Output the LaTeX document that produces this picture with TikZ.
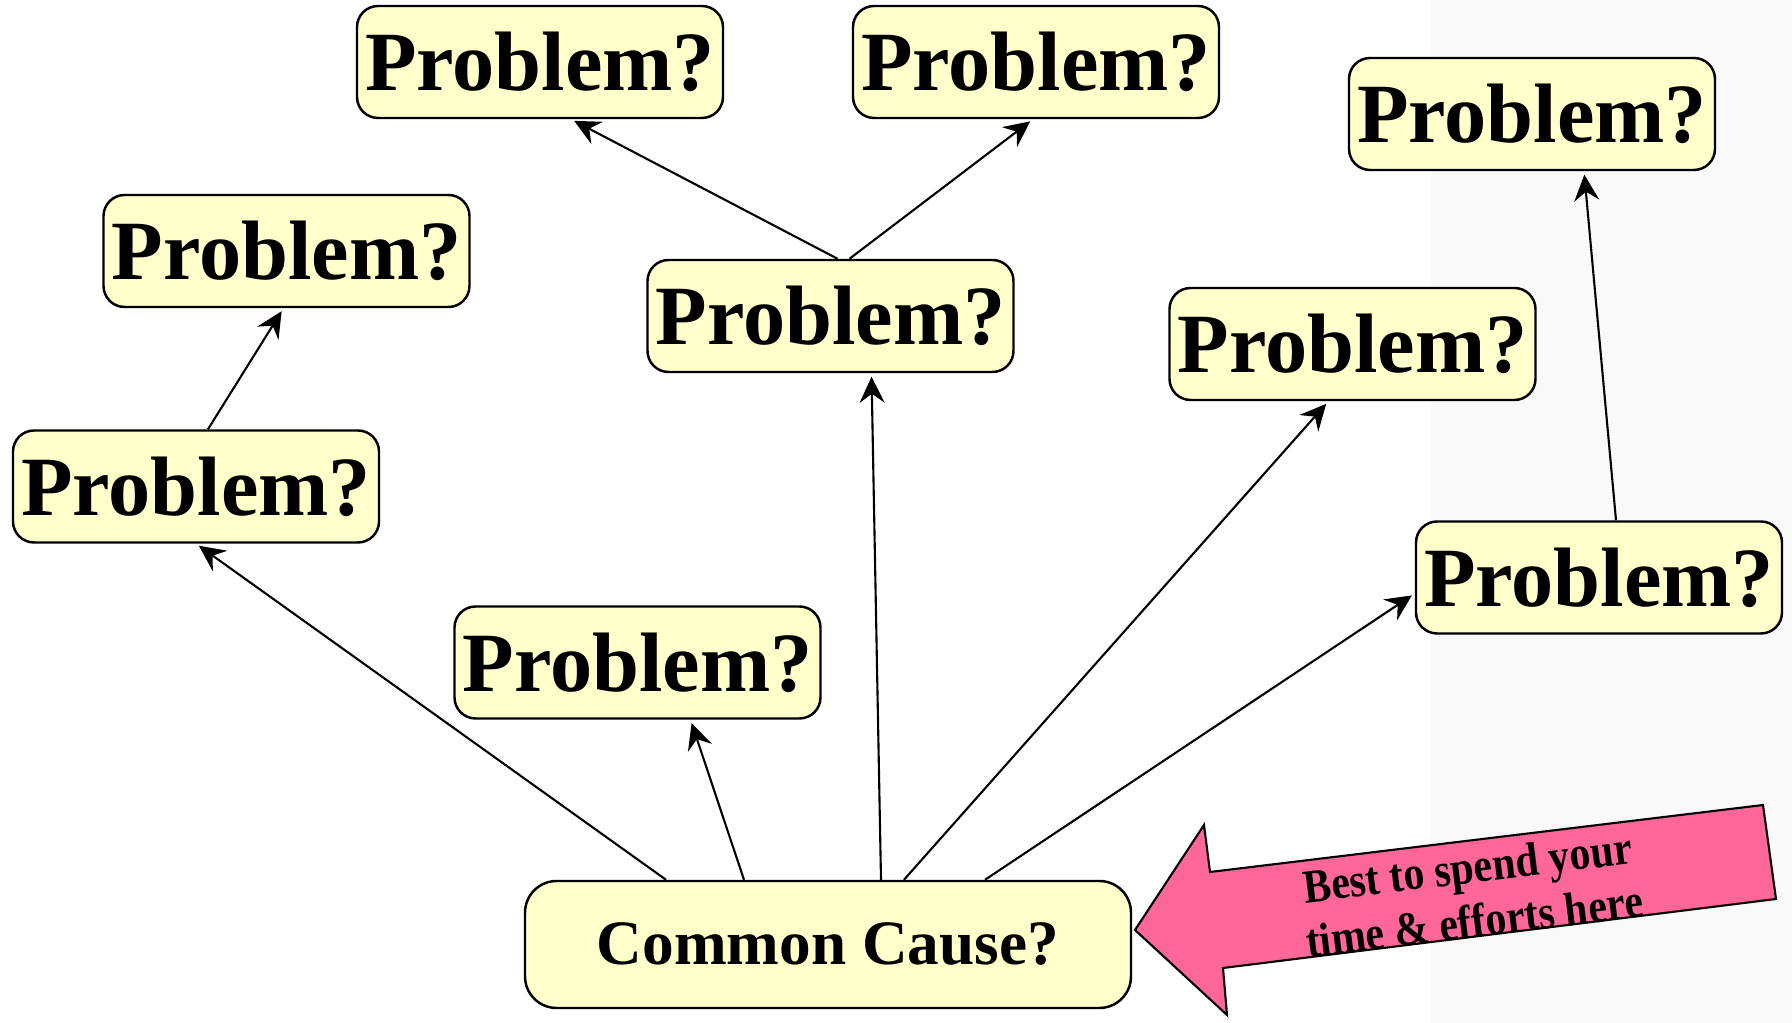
\documentclass[tikz,border=0pt]{standalone}
\usepackage{fontspec}
\setmainfont{Liberation Serif}
\newfontfamily\hintfont[FakeStretch=0.88]{Liberation Serif}
\usepackage{xcolor}
\definecolor{NoteYellow}{HTML}{FFFFCC}
\definecolor{HotPink}{HTML}{FF6699}
\definecolor{PaneGray}{HTML}{F9F9F9}
\usetikzlibrary{arrows.meta}
\tikzset{
  probbox/.style={
    draw=black,
    fill=NoteYellow,
    rounded corners=6pt,
    line width=0.7pt,
    minimum width=3.66cm,
    minimum height=1.12cm,
    inner sep=2pt,
    font=\fontsize{24}{28}\selectfont\bfseries
  },
  causebox/.style={
    draw=black,
    fill=NoteYellow,
    rounded corners=9pt,
    line width=0.7pt,
    minimum width=6.06cm,
    minimum height=1.27cm,
    font=\fontsize{18}{22}\selectfont\bfseries
  },
  probline/.style={
    draw=black,
    -{Stealth[length=2.6mm,width=2.5mm,inset=0.9mm]},
    line width=0.6pt,
    shorten >=1pt
  },
  pointer/.style={
    draw=black,
    fill=HotPink,
    line width=0.6pt,
    line join=miter
  }
}

\begin{document}
\begin{tikzpicture}[x=1cm,y=1cm]
  \useasboundingbox (0,0) rectangle (17.92,-10.23);
  \fill[PaneGray] (14.31,0) rectangle (17.92,-10.23);
  \node[probbox] (pTopL) at (5.40,-0.62) {Problem?};
  \node[probbox] (pTopR) at (10.36,-0.62) {Problem?};
  \node[probbox] (pFarR) at (15.32,-1.14) {Problem?};
  \node[probbox] (pUpL) at (2.865,-2.51) {Problem?};
  \node[probbox] (pMid) at (8.305,-3.16) {Problem?};
  \node[probbox] (pMidR) at (13.525,-3.44) {Problem?};
  \node[probbox] (pLeft) at (1.96,-4.865) {Problem?};
  \node[probbox] (pLow) at (6.375,-6.625) {Problem?};
  \node[probbox] (pRight) at (15.99,-5.775) {Problem?};
  \node[causebox] (cause) at (8.28,-9.445) {Common Cause?};
  \foreach \src/\sx/\dst/\dx in {cause/-1.62/pLeft/0,cause/-0.84/pLow/0.53,cause/0.53/pMid/0.41,cause/0.76/pMidR/-0.24,pLeft/0.12/pUpL/-0.03,pMid/0.07/pTopL/0.31,pMid/0.19/pTopR/-0.03,pRight/0.17/pFarR/0.52}{\draw[probline] ([xshift=\sx cm]\src.north) -- ([xshift=\dx cm]\dst.south);}
  \draw[probline] ([xshift=1.57cm]cause.north) -- ([yshift=-0.16cm]pRight.west);
  % pointer to the common cause
  \draw[pointer] (11.35,-9.30) -- (12.04,-8.25) -- (12.10,-8.72) -- (17.63,-8.05) -- (17.76,-8.99) -- (12.23,-9.68) -- (12.27,-10.15) -- cycle;
  \node[rotate=7, align=center, inner sep=0pt, font=\hintfont\fontsize{13.5}{15.5}\selectfont\bfseries] (hint) at (14.71,-8.94) {Best to spend your\\time \& efforts here};
\end{tikzpicture}
\end{document}
